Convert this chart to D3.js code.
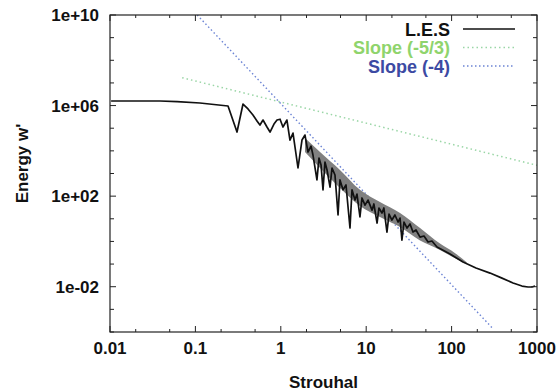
<!DOCTYPE html>
<html>
<head>
<meta charset="utf-8">
<script src="https://cdn.jsdelivr.net/npm/d3@7"></script>
<style>
  body { margin: 0; background: #fff; }
  svg text { font-family: "Liberation Sans", Arial, sans-serif; font-weight: bold; }
</style>
</head>
<body>
<div id="chart"></div>
<script>
// L.E.S spectrum
const lesStrouhal = [
  0.0103, 0.0171, 0.0385, 0.061, 0.113, 0.241, 0.307, 0.361, 0.413, 0.472,
  0.526, 0.570, 0.619, 0.689, 0.748, 0.832, 0.903, 0.980, 1.06, 1.18,
  1.28, 1.39, 1.59, 1.77, 1.92, 2.08, 2.26, 2.38, 2.65, 2.80,
  2.96, 3.12, 3.29, 3.48, 3.77, 3.98, 4.31, 4.68, 4.93, 5.35,
  5.80, 6.46, 6.82, 7.39, 7.80, 8.45, 8.93, 9.68, 10.5, 11.7,
  12.3, 13.4, 14.1, 15.3, 16.1, 17.5, 18.5, 20.0, 21.7, 23.6,
  24.9, 26.2, 27.7, 30.1, 32.6, 35.3, 38.3, 42.7, 47.5, 53.0,
  58.9, 67.5, 95.8, 136, 193, 282, 389, 524, 667, 785,
  873, 948
];
const lesEnergy = [
  1.59e6, 1.59e6, 1.59e6, 1.5e6, 1.3e6, 9.6e5, 6.8e4, 1.17e6, 7.1e5, 3.8e5,
  2.1e5, 1.38e5, 2.3e5, 1.13e5, 6.8e4, 1.53e5, 2.3e5, 2.5e5, 1.13e5, 2.3e5,
  3.0e4, 6.1e4, 1.75e3, 3.0e4, 5.0e4, 8.9e3, 1.6e4, 6.6e3, 5.2e2, 4.8e3,
  2.4e3, 1.9e2, 3.2e3, 1.43e3, 2.5e2, 1.75e3, 8.6e2, 14.7, 5.2e2, 1.9e2,
  3.1e2, 3.9, 1.9e2, 67, 124, 12, 83, 40, 67, 24,
  45, 6.5, 30, 18, 30, 2.6, 16, 8.8, 14.7, 7.2,
  10.8, 1.15, 7.2, 3.9, 5.9, 2.6, 3.2, 1.56, 1.73, 0.94,
  1.04, 0.57, 0.28, 0.123, 0.067, 0.040, 0.024, 0.0146, 0.0107, 0.0097,
  0.0097, 0.0107
];

// spread of the dense oscillating part (grey band)
const bandStrouhal = [1.92, 2.88, 4.93, 8.45, 14.5, 24.9, 42.7, 73.1, 110, 150];
const bandHigh = [3.7e4, 8.9e3, 1.43e3, 190, 55, 18, 3.9, 0.8, 0.3, 0.12];
const bandLow = [8.9e3, 1.75e3, 230, 37, 12, 4.3, 1.1, 0.42, 0.18, 0.1];

// reference slopes (end points)
const slope53Strouhal = [0.07, 1000];
const slope53Energy = [1.7e7, 2.3e3];
const slope4Strouhal = [0.105, 300];
const slope4Energy = [1e10, 1.5e-4];

const xTickValues = [0.01, 0.1, 1, 10, 100, 1000];
const xTickLabels = ["0.01", "0.1", "1", "10", "100", "1000"];
const yTickValues = [1e-2, 1e2, 1e6, 1e10];
const yTickLabels = ["1e-02", "1e+02", "1e+06", "1e+10"];
const legendLabels = ["L.E.S", "Slope (-5/3)", "Slope (-4)"];

const width = 560, height = 392;
const margin = { top: 15, right: 23, bottom: 60, left: 110 };

const svg = d3.select("#chart").append("svg")
  .attr("width", width)
  .attr("height", height);

const x = d3.scaleLog().domain([0.01, 1000]).range([margin.left, width - margin.right]);
const y = d3.scaleLog().domain([1e-4, 1e10]).range([height - margin.bottom, margin.top]);

svg.append("clipPath").attr("id", "plot")
  .append("rect")
  .attr("x", x.range()[0]).attr("y", y.range()[1])
  .attr("width", x.range()[1] - x.range()[0])
  .attr("height", y.range()[0] - y.range()[1]);

const plot = svg.append("g").attr("clip-path", "url(#plot)");

const line = d3.line().x(d => x(d[0])).y(d => y(d[1]));

const green = "#9ad6a6", blue = "#6c84d4";

// slopes
plot.append("path")
  .attr("d", line(d3.zip(slope53Strouhal, slope53Energy)))
  .attr("fill", "none")
  .attr("stroke", green)
  .attr("stroke-width", 1.5)
  .attr("stroke-dasharray", "1.5,3");

plot.append("path")
  .attr("d", line(d3.zip(slope4Strouhal, slope4Energy)))
  .attr("fill", "none")
  .attr("stroke", blue)
  .attr("stroke-width", 1.4)
  .attr("stroke-dasharray", "1.5,2.5");

// grey band
plot.append("path")
  .datum(d3.range(bandStrouhal.length))
  .attr("d", d3.area()
    .x(i => x(bandStrouhal[i]))
    .y0(i => y(bandLow[i]))
    .y1(i => y(bandHigh[i]))
    .curve(d3.curveMonotoneX))
  .attr("fill", "#808080");

// L.E.S
plot.append("path")
  .attr("d", line(d3.zip(lesStrouhal, lesEnergy)))
  .attr("fill", "none")
  .attr("stroke", "#111")
  .attr("stroke-width", 1.7)
  .attr("stroke-linejoin", "round");

// frame
svg.append("rect")
  .attr("x", x.range()[0]).attr("y", y.range()[1])
  .attr("width", x.range()[1] - x.range()[0])
  .attr("height", y.range()[0] - y.range()[1])
  .attr("fill", "none")
  .attr("stroke", "#222")
  .attr("stroke-width", 1.2);

// ticks, mirrored on all four sides
const xMajor = xTickValues;
const xMinor = [];
xMajor.slice(0, -1).forEach(v => { xMinor.push(v * 2, v * 5); });
const yAll = d3.range(-4, 11).map(e => Math.pow(10, e));

const ticks = svg.append("g").attr("stroke", "#222").attr("stroke-width", 1);
const [x0, x1] = x.range();
const [yb, yt] = y.range();
[[xMajor, 6], [xMinor, 3]].forEach(([vals, len]) => {
  ticks.selectAll(null).data(vals).join("line")
    .attr("x1", d => x(d)).attr("x2", d => x(d))
    .attr("y1", yb).attr("y2", yb - len);
  ticks.selectAll(null).data(vals).join("line")
    .attr("x1", d => x(d)).attr("x2", d => x(d))
    .attr("y1", yt).attr("y2", yt + len);
});
ticks.selectAll(null).data(yAll).join("line")
  .attr("x1", x0).attr("x2", d => x0 + (yTickValues.includes(d) ? 6 : 4))
  .attr("y1", d => y(d)).attr("y2", d => y(d));
ticks.selectAll(null).data(yAll).join("line")
  .attr("x1", x1).attr("x2", d => x1 - (yTickValues.includes(d) ? 6 : 4))
  .attr("y1", d => y(d)).attr("y2", d => y(d));

// tick labels
svg.append("g").selectAll("text").data(xTickValues).join("text")
  .attr("x", d => x(d))
  .attr("y", yb + 22)
  .attr("text-anchor", "middle")
  .style("font-size", "17px")
  .attr("fill", "#111")
  .text((d, i) => xTickLabels[i]);

svg.append("g").selectAll("text").data(yTickValues).join("text")
  .attr("x", x0 - 11)
  .attr("y", d => y(d) + 6)
  .attr("text-anchor", "end")
  .style("font-size", "17px")
  .attr("fill", "#111")
  .text((d, i) => yTickLabels[i]);

// axis titles
svg.append("text")
  .attr("x", (x0 + x1) / 2)
  .attr("y", 388)
  .attr("text-anchor", "middle")
  .style("font-size", "17px")
  .attr("fill", "#111")
  .text("Strouhal");

svg.append("text")
  .attr("transform", `translate(28, ${(yt + yb) / 2 - 10}) rotate(-90)`)
  .attr("text-anchor", "middle")
  .style("font-size", "17px")
  .attr("fill", "#111")
  .text("Energy w'");

// legend
const legendText = ["#111", "#8fd46c", "#3c4aa3"];
const legendStroke = ["#111", green, blue];
const legendDash = [null, "1.5,3", "1.5,2.5"];
const legend = svg.append("g").attr("transform", "translate(450, 29)");
const item = legend.selectAll("g").data(legendLabels).join("g")
  .attr("transform", (d, i) => `translate(0, ${i * 18.5})`);
item.append("text")
  .attr("x", 0).attr("y", 6.5)
  .attr("text-anchor", "end")
  .style("font-size", "18px")
  .attr("fill", (d, i) => legendText[i])
  .text(d => d);
item.append("line")
  .attr("x1", 13).attr("x2", 65)
  .attr("y1", 0).attr("y2", 0)
  .attr("stroke", (d, i) => legendStroke[i])
  .attr("stroke-width", (d, i) => i === 0 ? 1.7 : 1.4)
  .attr("stroke-dasharray", (d, i) => legendDash[i]);
</script>
</body>
</html>
